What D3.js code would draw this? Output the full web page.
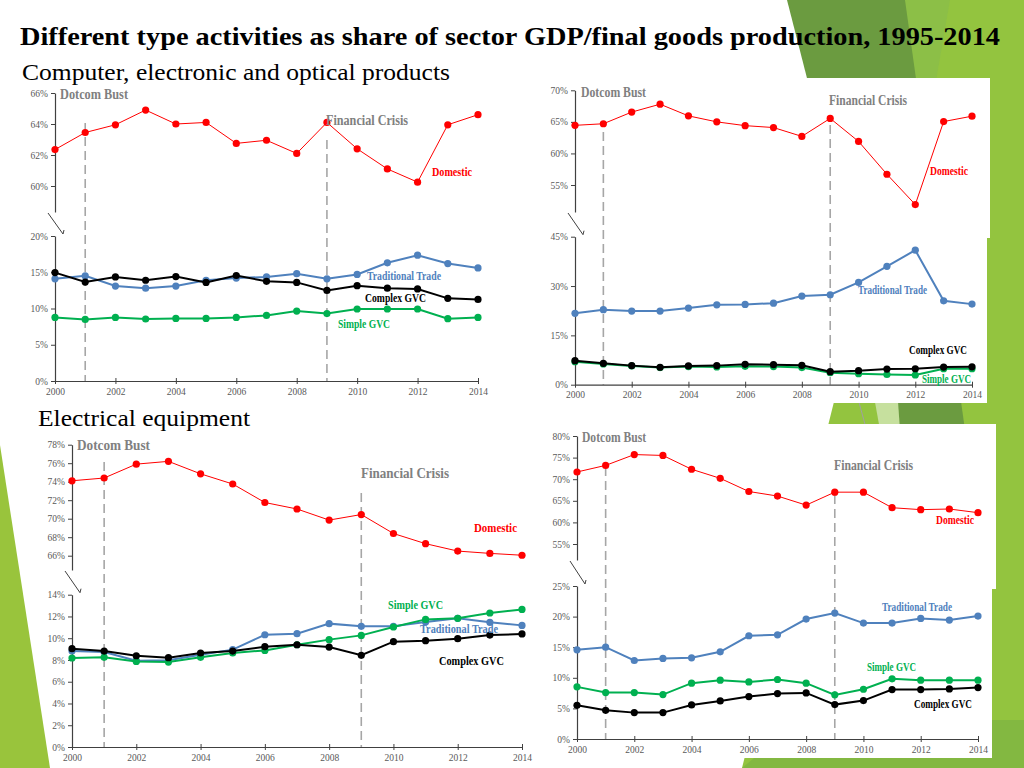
<!DOCTYPE html>
<html>
<head>
<meta charset="utf-8">
<script src="https://cdn.jsdelivr.net/npm/d3@7"></script>
<style>
  body { margin: 0; background: #fff; }
  svg { display: block; }
</style>
</head>
<body>
<div id="slide"></div>
<script>
// ---- data (% of sector) ----
var years = [2000, 2001, 2002, 2003, 2004, 2005, 2006, 2007, 2008, 2009, 2010, 2011, 2012, 2013, 2014];
var xTickYears = [2000, 2002, 2004, 2006, 2008, 2010, 2012, 2014];
var eventYears = [2001, 2009];
var eventNames = ["Dotcom Bust", "Financial Crisis"];
var seriesNames = ["Domestic", "Traditional Trade", "Complex GVC", "Simple GVC"];

// computer, electronic and optical - sector GDP (left)
var compGdpDomestic    = [62.35, 63.45, 63.95, 64.9, 64.0, 64.1, 62.75, 62.95, 62.1, 64.1, 62.4, 61.1, 60.25, 63.95, 64.6];
var compGdpTraditional = [14.1, 14.5, 13.1, 12.8, 13.1, 13.9, 14.2, 14.35, 14.8, 14.1, 14.7, 16.3, 17.35, 16.2, 15.6];
var compGdpComplex     = [14.95, 13.65, 14.35, 13.9, 14.4, 13.6, 14.55, 13.75, 13.6, 12.5, 13.15, 12.8, 12.7, 11.4, 11.25];
var compGdpSimple      = [8.77, 8.5, 8.77, 8.55, 8.63, 8.63, 8.77, 9.05, 9.65, 9.3, 9.93, 9.93, 9.93, 8.6, 8.77];
var compGdpUpperTicks  = [60, 62, 64, 66];
var compGdpLowerTicks  = [0, 5, 10, 15, 20];

// computer - final goods production (right)
var compFinalDomestic    = [64.45, 64.7, 66.55, 67.8, 65.95, 65.0, 64.4, 64.1, 62.7, 65.55, 61.9, 56.7, 51.9, 65.05, 65.9];
var compFinalTraditional = [21.7, 22.8, 22.4, 22.4, 23.3, 24.3, 24.4, 24.8, 26.95, 27.35, 31.1, 36.0, 40.9, 25.5, 24.5];
var compFinalComplex     = [7.3, 6.5, 5.8, 5.3, 5.7, 5.8, 6.2, 6.1, 5.9, 3.95, 4.25, 4.75, 4.85, 5.35, 5.45];
var compFinalSimple      = [7.0, 6.3, 5.7, 5.2, 5.5, 5.4, 5.6, 5.5, 5.2, 3.65, 3.35, 3.1, 2.95, 4.85, 4.85];
var compFinalUpperTicks  = [55, 60, 65, 70];
var compFinalLowerTicks  = [0, 15, 30, 45];

// electrical equipment - sector GDP (left)
var elecGdpDomestic    = [74.1, 74.4, 75.9, 76.2, 74.85, 73.75, 71.75, 71.05, 69.85, 70.45, 68.4, 67.3, 66.5, 66.25, 66.05];
var elecGdpTraditional = [8.82, 8.73, 7.93, 7.97, 8.49, 8.95, 10.32, 10.42, 11.34, 11.09, 11.09, 11.49, 11.83, 11.46, 11.18];
var elecGdpComplex     = [9.04, 8.82, 8.39, 8.21, 8.64, 8.82, 9.22, 9.4, 9.19, 8.43, 9.68, 9.77, 9.96, 10.29, 10.39];
var elecGdpSimple      = [8.18, 8.24, 7.87, 7.81, 8.24, 8.64, 8.88, 9.4, 9.87, 10.26, 11.03, 11.73, 11.83, 12.32, 12.65];
var elecGdpUpperTicks  = [66, 68, 70, 72, 74, 76, 78];
var elecGdpLowerTicks  = [0, 2, 4, 6, 8, 10, 12, 14];

// electrical equipment - final goods production (right)
var elecFinalDomestic    = [71.67, 73.2, 75.7, 75.5, 72.3, 70.2, 67.15, 66.1, 64.0, 67.0, 67.0, 63.4, 62.95, 63.1, 62.25];
var elecFinalTraditional = [14.57, 15.0, 12.83, 13.16, 13.27, 14.25, 16.87, 17.03, 19.6, 20.58, 18.94, 18.94, 19.7, 19.43, 20.08];
var elecFinalComplex     = [5.51, 4.69, 4.31, 4.31, 5.57, 6.22, 6.93, 7.42, 7.53, 5.62, 6.28, 8.08, 8.08, 8.19, 8.41];
var elecFinalSimple      = [8.52, 7.59, 7.59, 7.26, 9.12, 9.61, 9.33, 9.72, 9.12, 7.21, 8.13, 9.83, 9.61, 9.61, 9.61];
var elecFinalUpperTicks  = [55, 60, 65, 70, 75, 80];
var elecFinalLowerTicks  = [0, 5, 10, 15, 20, 25];

var colors = { "Domestic": "#ff0000", "Traditional Trade": "#4f81bd", "Complex GVC": "#000000", "Simple GVC": "#00b050" };
var serif = "Liberation Serif, Times New Roman, serif";

// ---- layout of the four panels (pixels) ----
// up/low: [tickValueA, pxA, tickValueB, pxB, axisEndPx]
var panels = [
  { dom: compGdpDomestic, trad: compGdpTraditional, cplx: compGdpComplex, simp: compGdpSimple,
    upTicks: compGdpUpperTicks, lowTicks: compGdpLowerTicks,
    x0: 55, x1: 478, up: [60, 186, 66, 93, 212], low: [0, 381, 20, 236],
    dashTop: [123, 140],
    ev: [[60, 99, 68], [326, 125, 82]],
    lbl: [[432, 176, 40], [367, 280, 74], [365, 302, 61], [338, 328, 52]] },
  { dom: compFinalDomestic, trad: compFinalTraditional, cplx: compFinalComplex, simp: compFinalSimple,
    upTicks: compFinalUpperTicks, lowTicks: compFinalLowerTicks,
    x0: 575, x1: 972, up: [55, 185, 70, 90.3, 212], low: [0, 384.7, 45, 236.7],
    dashTop: [132, 125],
    ev: [[581, 97, 65], [829, 105, 78]],
    lbl: [[930, 175, 38], [858, 294, 69], [909, 354, 58], [922, 383, 49]],
    bg: [[560, 78, 990, 238], [560, 238, 987, 403]] },
  { dom: elecGdpDomestic, trad: elecGdpTraditional, cplx: elecGdpComplex, simp: elecGdpSimple,
    upTicks: elecGdpUpperTicks, lowTicks: elecGdpLowerTicks,
    x0: 72, x1: 522, up: [66, 555.7, 78, 444.7, 570], low: [0, 747, 14, 594.7],
    dashTop: [462, 493],
    ev: [[77, 450, 73], [361, 478, 88]],
    lbl: [[474, 532, 43], [420, 633, 78], [439, 665, 65], [388, 609, 55]] },
  { dom: elecFinalDomestic, trad: elecFinalTraditional, cplx: elecFinalComplex, simp: elecFinalSimple,
    upTicks: elecFinalUpperTicks, lowTicks: elecFinalLowerTicks,
    x0: 577, x1: 978, up: [55, 544, 80, 436, 560], low: [0, 739, 25, 586],
    dashTop: [467, 495],
    ev: [[582, 442, 64], [834, 470, 79]],
    lbl: [[936, 524, 38], [882, 611, 70], [914, 708, 58], [867, 671, 49]],
    bg: [[560, 424, 996, 589], [560, 589, 992, 758]] }
];

var svg = d3.select("#slide").append("svg")
    .attr("width", 1024)
    .attr("height", 768);

// ---- slide background decoration ----
var deco = svg.append("g");
deco.append("polygon").attr("points", "935,0 1024,0 1024,768 742,768").attr("fill", "#93c43f");
deco.append("polygon").attr("points", "905,0 950,0 905,260 860,260").attr("fill", "#8cbf47");
deco.append("polygon").attr("points", "787,0 905,0 965,430 897,430").attr("fill", "#6b9b40");
deco.append("polygon").attr("points", "862,330 893,330 900,430 880,430").attr("fill", "#c6e09e");
deco.append("polygon").attr("points", "742,768 800,720 1024,720 1024,768").attr("fill", "#83b841");
deco.append("line").attr("x1", 857).attr("y1", 395).attr("x2", 866).attr("y2", 428)
    .attr("stroke", "#a0a0a0").attr("stroke-width", 1);
deco.append("polygon").attr("points", "0,445 50,768 0,768").attr("fill", "#99c43c");

// ---- titles ----
svg.append("text").attr("x", 20).attr("y", 45)
    .style("font-family", serif).attr("font-weight", "bold").attr("font-size", 25)
    .attr("textLength", 980).attr("lengthAdjust", "spacingAndGlyphs")
    .text("Different type activities as share of sector GDP/final goods production, 1995-2014");
svg.append("text").attr("x", 22).attr("y", 80)
    .style("font-family", serif).attr("font-size", 23)
    .attr("textLength", 428).attr("lengthAdjust", "spacingAndGlyphs")
    .text("Computer, electronic and optical products");
svg.append("text").attr("x", 38).attr("y", 426)
    .style("font-family", serif).attr("font-size", 24)
    .attr("textLength", 212).attr("lengthAdjust", "spacingAndGlyphs")
    .text("Electrical equipment");

function styleAxis(g) {
  g.attr("font-family", null).attr("font-size", null);
  g.select(".domain").attr("stroke", "#404040").attr("stroke-width", 1.2);
  g.selectAll(".tick line").attr("stroke", "#404040");
  g.selectAll(".tick text").attr("fill", "#595959")
    .style("font-family", serif).style("font-size", "9.5px");
}

function makeScale(s, endPx) {
  var tmp = d3.scaleLinear().domain([s[0], s[2]]).range([s[1], s[3]]);
  var end = endPx === undefined ? s[1] : endPx;
  return d3.scaleLinear().domain([tmp.invert(end), s[2]]).range([end, s[3]]);
}

panels.forEach(function(p) {
  var g = svg.append("g");

  if (p.bg) {
    p.bg.forEach(function(r) {
      g.append("rect").attr("x", r[0]).attr("y", r[1])
        .attr("width", r[2] - r[0]).attr("height", r[3] - r[1])
        .attr("fill", "#ffffff");
    });
  }

  var x = d3.scaleLinear().domain([2000, 2014]).range([p.x0, p.x1]);
  var yUp = makeScale(p.up, p.up[4]);
  var yLow = makeScale(p.low);

  // event dashed lines
  g.selectAll(".ev")
    .data(eventYears)
    .enter()
    .append("line")
      .attr("x1", function(d) { return x(d); })
      .attr("x2", function(d) { return x(d); })
      .attr("y1", function(d, i) { return p.dashTop[i]; })
      .attr("y2", yLow(0))
      .attr("stroke", "#a6a6a6")
      .attr("stroke-width", 1.6)
      .attr("stroke-dasharray", "9,5");

  // axes
  var ua = g.append("g")
      .attr("transform", "translate(" + p.x0 + ",0)")
      .call(d3.axisLeft(yUp).tickValues(p.upTicks).tickSize(4).tickSizeOuter(0)
        .tickFormat(function(d) { return d + "%"; }));
  styleAxis(ua);
  var la = g.append("g")
      .attr("transform", "translate(" + p.x0 + ",0)")
      .call(d3.axisLeft(yLow).tickValues(p.lowTicks).tickSize(4).tickSizeOuter(0)
        .tickFormat(function(d) { return d + "%"; }));
  styleAxis(la);
  var xa = g.append("g")
      .attr("transform", "translate(0," + yLow(0) + ")")
      .call(d3.axisBottom(x).tickValues(xTickYears).tickSize(3).tickSizeOuter(0)
        .tickFormat(d3.format("d")));
  styleAxis(xa);
  xa.selectAll(".tick line").attr("y1", -3).attr("y2", 3);
  xa.selectAll(".tick text").attr("y", 7);

  // axis break mark
  var bx = p.x0, by0 = p.up[4], by1 = p.low[3];
  g.append("path")
    .attr("d", "M" + (bx - 7) + "," + (by0 + 1) + " L" + (bx + 8) + "," + (by1 - 2) + " L" + (bx + 9) + "," + (by1 - 6))
    .attr("fill", "none").attr("stroke", "#404040").attr("stroke-width", 1);

  // series
  var lowSeries = [
    { name: "Traditional Trade", vals: p.trad, w: 2 },
    { name: "Simple GVC", vals: p.simp, w: 2 },
    { name: "Complex GVC", vals: p.cplx, w: 2 }
  ];
  var lineLow = d3.line().x(function(d, i) { return x(years[i]); }).y(function(d) { return yLow(d); });
  var lineUp = d3.line().x(function(d, i) { return x(years[i]); }).y(function(d) { return yUp(d); });

  g.append("path").datum(p.dom)
    .attr("d", lineUp).attr("fill", "none")
    .attr("stroke", colors["Domestic"]).attr("stroke-width", 1);
  g.selectAll(".dom").data(p.dom).enter().append("circle")
    .attr("cx", function(d, i) { return x(years[i]); })
    .attr("cy", function(d) { return yUp(d); })
    .attr("r", 3.6).attr("fill", colors["Domestic"]);

  lowSeries.forEach(function(s) {
    g.append("path").datum(s.vals)
      .attr("d", lineLow).attr("fill", "none")
      .attr("stroke", colors[s.name]).attr("stroke-width", s.w);
    g.selectAll(".pt").data(s.vals).enter().append("circle")
      .attr("cx", function(d, i) { return x(years[i]); })
      .attr("cy", function(d) { return yLow(d); })
      .attr("r", 3.6).attr("fill", colors[s.name]);
  });

  // event labels
  p.ev.forEach(function(e, i) {
    g.append("text").attr("x", e[0]).attr("y", e[1])
      .style("font-family", serif).attr("font-weight", "bold").attr("font-size", 14)
      .attr("fill", "#808080")
      .attr("textLength", e[2]).attr("lengthAdjust", "spacingAndGlyphs")
      .text(eventNames[i]);
  });

  // series labels
  p.lbl.forEach(function(l, i) {
    g.append("text").attr("x", l[0]).attr("y", l[1])
      .style("font-family", serif).attr("font-weight", "bold").attr("font-size", 12)
      .attr("fill", colors[seriesNames[i]])
      .attr("textLength", l[2]).attr("lengthAdjust", "spacingAndGlyphs")
      .text(seriesNames[i]);
  });
});
</script>
</body>
</html>
